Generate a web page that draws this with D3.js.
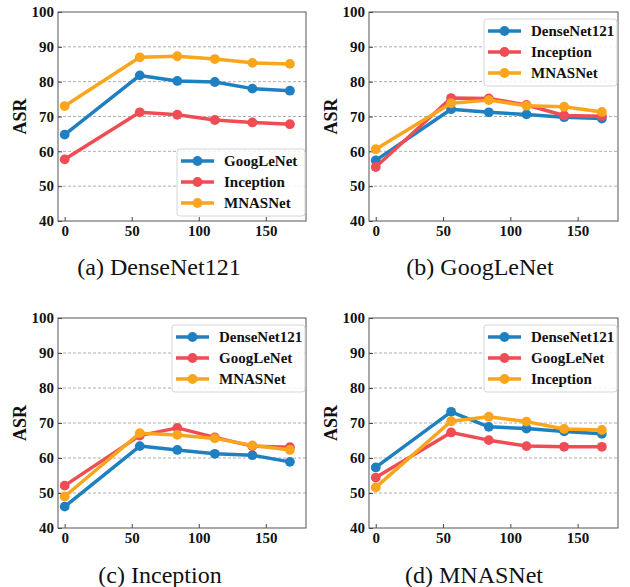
<!DOCTYPE html>
<html>
<head>
<meta charset="utf-8">
<script src="https://cdn.jsdelivr.net/npm/d3@7"></script>
<style>
  html, body { margin: 0; padding: 0; background: #fff; }
  svg { display: block; }
</style>
</head>
<body>
<svg id="chart" width="630" height="587"></svg>
<script>
// ---------- data ----------
const steps = [0, 56, 84, 112, 140, 168];
const xTicks = [0, 50, 100, 150];
const yTicks = [40, 50, 60, 70, 80, 90, 100];
const gridTicks = [50, 60, 70, 80, 90];

const captions = ["(a) DenseNet121", "(b) GoogLeNet", "(c) Inception", "(d) MNASNet"];

// panel (a) DenseNet121 source
const aNames = ["GoogLeNet", "Inception", "MNASNet"];
const aGoogLeNet = [64.8, 81.8, 80.2, 79.9, 78.0, 77.4];
const aInception = [57.7, 71.2, 70.5, 69.0, 68.3, 67.8];
const aMNASNet   = [73.0, 87.0, 87.3, 86.5, 85.4, 85.1];

// panel (b) GoogLeNet source
const bNames = ["DenseNet121", "Inception", "MNASNet"];
const bDenseNet121 = [57.4, 72.1, 71.2, 70.6, 69.8, 69.4];
const bInception   = [55.5, 75.3, 75.2, 73.3, 70.3, 70.1];
const bMNASNet     = [60.6, 73.8, 74.7, 73.1, 72.8, 71.3];

// panel (c) Inception source
const cNames = ["DenseNet121", "GoogLeNet", "MNASNet"];
const cDenseNet121 = [46.1, 63.4, 62.3, 61.2, 60.8, 58.9];
const cGoogLeNet   = [52.1, 66.4, 68.6, 65.9, 63.4, 63.1];
const cMNASNet     = [49.0, 67.1, 66.6, 65.6, 63.6, 62.3];

// panel (d) MNASNet source
const dNames = ["DenseNet121", "GoogLeNet", "Inception"];
const dDenseNet121 = [57.3, 73.2, 68.9, 68.4, 67.6, 66.9];
const dGoogLeNet   = [54.4, 67.3, 65.1, 63.4, 63.2, 63.2];
const dInception   = [51.6, 70.5, 71.8, 70.4, 68.3, 68.0];

const colors = ["#1f80c1", "#f04c53", "#fba51d"];

// ---------- layout ----------
const panels = [
  { box: [58, 12, 306, 221],  names: aNames, series: [aGoogLeNet, aInception, aMNASNet], legend: "lower", cap: [159, 267] },
  { box: [369, 12, 618, 221], names: bNames, series: [bDenseNet121, bInception, bMNASNet], legend: "upper", cap: [480, 267] },
  { box: [58, 318, 306, 528], names: cNames, series: [cDenseNet121, cGoogLeNet, cMNASNet], legend: "upper", cap: [160, 575] },
  { box: [369, 318, 618, 528], names: dNames, series: [dDenseNet121, dGoogLeNet, dInception], legend: "upper", cap: [474, 575] }
];

const svg = d3.select("#chart");
const serif = "'Liberation Serif', 'Times New Roman', 'DejaVu Serif', serif";

panels.forEach((p, pi) => {
  const [x0, y0, x1, y1] = p.box;
  const x = d3.scaleLinear().domain([-5, 180]).range([x0, x1]);
  const y = d3.scaleLinear().domain([40, 100]).range([y1, y0]);
  const g = svg.append("g");

  // grid
  g.selectAll(".grid").data(gridTicks).enter().append("line")
    .attr("x1", x0).attr("x2", x1)
    .attr("y1", d => y(d)).attr("y2", d => y(d))
    .attr("stroke", "#9a9a9a").attr("stroke-width", 0.8)
    .attr("stroke-dasharray", "3,2");

  // axes
  const xAxis = d3.axisBottom(x).tickValues(xTicks).tickSizeInner(-4).tickSizeOuter(0).tickPadding(6).tickFormat(d3.format("d"));
  const yAxis = d3.axisLeft(y).tickValues(yTicks).tickSizeInner(-4).tickSizeOuter(0).tickPadding(4).tickFormat(d3.format("d"));
  const gx = g.append("g").attr("transform", `translate(0,${y1})`).call(xAxis);
  const gy = g.append("g").attr("transform", `translate(${x0},0)`).call(yAxis);
  [gx, gy].forEach(a => {
    a.select(".domain").remove();
    a.selectAll("line").attr("stroke", "#444");
    a.selectAll("text").attr("font-family", serif).attr("font-weight", "bold")
      .attr("font-size", 15).attr("fill", "#111");
  });
  gx.selectAll("text").attr("dy", "0.6em");

  // frame
  g.append("rect").attr("x", x0).attr("y", y0).attr("width", x1 - x0).attr("height", y1 - y0)
    .attr("fill", "none").attr("stroke", "#555").attr("stroke-width", 1);

  // y label
  g.append("text")
    .attr("transform", `translate(${x0 - 36},${(y0 + y1) / 2}) rotate(-90)`)
    .attr("text-anchor", "middle").attr("dominant-baseline", "middle")
    .attr("font-family", serif).attr("font-weight", "bold").attr("font-size", 18)
    .attr("fill", "#111").text("ASR");

  // lines
  const line = d3.line().x((d, i) => x(steps[i])).y(d => y(d));
  p.series.forEach((s, si) => {
    g.append("path").datum(s).attr("d", line)
      .attr("fill", "none").attr("stroke", colors[si]).attr("stroke-width", 3.5)
      .attr("stroke-linejoin", "round");
    g.selectAll(".pt" + si).data(s).enter().append("circle")
      .attr("cx", (d, i) => x(steps[i])).attr("cy", d => y(d)).attr("r", 4.9)
      .attr("fill", colors[si]);
  });

  // legend
  const lw = pi === 0 ? 128 : 133, lh = 67;
  const lx = x1 - 1 - lw;
  const ly = p.legend === "lower" ? y1 - 5 - lh : y0 + 7;
  const lg = g.append("g").attr("transform", `translate(${lx},${ly})`);
  lg.append("rect").attr("width", lw).attr("height", lh).attr("rx", 3)
    .attr("fill", "#fff").attr("fill-opacity", 0.85).attr("stroke", "#d6d6d6").attr("stroke-width", 1);
  p.names.forEach((n, ni) => {
    const ry = 12 + ni * 21;
    lg.append("line").attr("x1", 4).attr("x2", 37).attr("y1", ry).attr("y2", ry)
      .attr("stroke", colors[ni]).attr("stroke-width", 3.5);
    lg.append("circle").attr("cx", 20.5).attr("cy", ry).attr("r", 4.9).attr("fill", colors[ni]);
    lg.append("text").attr("x", 47).attr("y", ry).attr("dominant-baseline", "central")
      .attr("font-family", serif).attr("font-weight", "bold").attr("font-size", 15)
      .attr("fill", "#111").text(n);
  });

  // caption
  svg.append("text").attr("x", p.cap[0]).attr("y", p.cap[1]).attr("text-anchor", "middle")
    .attr("dominant-baseline", "central")
    .attr("font-family", serif).attr("font-size", 24).attr("fill", "#111").text(captions[pi]);
});
</script>
</body>
</html>
